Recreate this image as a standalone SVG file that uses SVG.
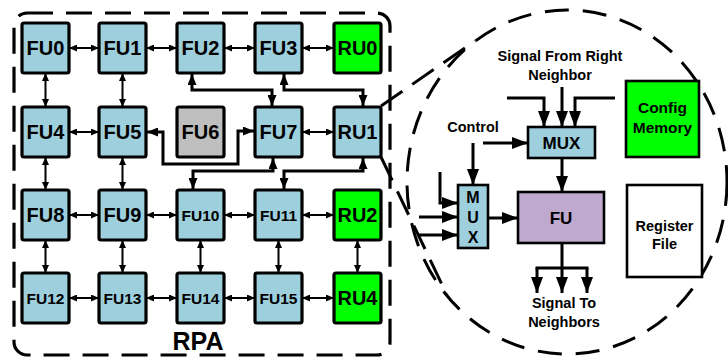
<svg xmlns="http://www.w3.org/2000/svg" width="728" height="358" viewBox="0 0 728 358">
<defs>
<style>
.n{fill:#9DCFDD;stroke:#000;stroke-width:3.2}
.g{fill:#00FF00;stroke:#000;stroke-width:3.2}
.gr{fill:#BFBFBF;stroke:#000;stroke-width:3.2}
.t{font-family:"Liberation Sans",Arial,sans-serif;font-weight:bold;text-anchor:middle;fill:#000}
.big{font-size:20px}
.sm{font-size:15.5px}
.lb{font-size:14.5px}
.da{stroke:#000;stroke-width:2;fill:none;marker-start:url(#a);marker-end:url(#a)}
.ra{stroke:#000;stroke-width:3;fill:none;marker-start:url(#r);marker-end:url(#r)}
.ia{stroke:#000;stroke-width:3;fill:none;marker-end:url(#b)}
.ln{stroke:#000;stroke-width:3;fill:none}
.dash{stroke:#000;stroke-width:3.2;fill:none;stroke-dasharray:26 13}
</style>
<marker id="a" markerUnits="userSpaceOnUse" markerWidth="8" markerHeight="7" refX="8" refY="3.5" orient="auto-start-reverse"><path d="M0,0L8,3.5L0,7z" fill="#000"/></marker>
<marker id="r" markerUnits="userSpaceOnUse" markerWidth="11" markerHeight="9" refX="11" refY="4.5" orient="auto-start-reverse"><path d="M0,0L11,4.5L0,9z" fill="#000"/></marker>
<marker id="b" markerUnits="userSpaceOnUse" markerWidth="16" markerHeight="12" refX="16" refY="6" orient="auto"><path d="M0,0L16,6L0,12z" fill="#000"/></marker>
</defs>
<rect width="728" height="358" fill="#fff"/>

<g id="rpa-border">
<rect class="dash" x="14" y="13" width="376" height="342" rx="13"/>
<text class="t" x="198" y="350" style="font-size:25px">RPA</text>
</g>

<g id="zoom-outline">
<ellipse class="dash" cx="567" cy="182" rx="160" ry="172" style="stroke-dasharray:24 14;stroke-width:3"/>
<line class="dash" x1="381" y1="106" x2="475" y2="41" style="stroke-dasharray:26 12;stroke-width:3"/>
<line class="dash" x1="381" y1="157" x2="447" y2="295" style="stroke-dasharray:26 12;stroke-width:3"/>
</g>

<g id="connectors">
<line class="da" x1="69" y1="48" x2="99" y2="48"/>
<line class="da" x1="146" y1="48" x2="177" y2="48"/>
<line class="da" x1="224" y1="48" x2="255" y2="48"/>
<line class="da" x1="302" y1="48" x2="334" y2="48"/>
<line class="da" x1="69" y1="132" x2="99" y2="132"/>
<line class="da" x1="302" y1="132" x2="334" y2="132"/>
<line class="da" x1="69" y1="215" x2="99" y2="215"/>
<line class="da" x1="146" y1="215" x2="177" y2="215"/>
<line class="da" x1="224" y1="215" x2="255" y2="215"/>
<line class="da" x1="302" y1="215" x2="334" y2="215"/>
<line class="da" x1="69" y1="298" x2="99" y2="298"/>
<line class="da" x1="146" y1="298" x2="177" y2="298"/>
<line class="da" x1="224" y1="298" x2="255" y2="298"/>
<line class="da" x1="302" y1="298" x2="334" y2="298"/>
<line class="da" x1="45.5" y1="73" x2="45.5" y2="107"/>
<line class="da" x1="122.5" y1="73" x2="122.5" y2="107"/>
<line class="da" x1="45.5" y1="157" x2="45.5" y2="190"/>
<line class="da" x1="122.5" y1="157" x2="122.5" y2="190"/>
<line class="da" x1="45.5" y1="240" x2="45.5" y2="273"/>
<line class="da" x1="122.5" y1="240" x2="122.5" y2="273"/>
<line class="da" x1="200.5" y1="240" x2="200.5" y2="273"/>
<line class="da" x1="278.5" y1="240" x2="278.5" y2="273"/>
<line class="da" x1="357.5" y1="240" x2="357.5" y2="273"/>
<path class="ra" d="M192,74V90H272V106"/>
<path class="ra" d="M284,74V90H363V106"/>
<path class="ra" d="M147,132H163V164H238V131H254"/>
<path class="ra" d="M273,158V171H193V189"/>
<path class="ra" d="M363,158V171H284V189"/>
<path class="ia" d="M562,87V127"/>
<path class="ia" d="M507,98H544V127"/>
<path class="ia" d="M615,98H575V127"/>
<path class="ia" d="M483,143H528"/>
<path class="ia" d="M473,143V185"/>
<path class="ia" d="M440,172V203H458"/>
<path class="ia" d="M419,217H458"/>
<path class="ia" d="M419,235H458"/>
<path class="ia" d="M562,158V192"/>
<path class="ia" d="M488,218H518"/>
<path class="ln" d="M562,243V268M535.5,268H588.5"/>
<path class="ia" d="M537,268V293"/>
<path class="ia" d="M562,268V293"/>
<path class="ia" d="M587,268V293"/>
</g>

<g id="FU0"><rect class="n" x="22" y="23" width="47" height="50" rx="2"/><text class="t big" x="45.5" y="55">FU0</text></g>
<g id="FU1"><rect class="n" x="99" y="23" width="47" height="50" rx="2"/><text class="t big" x="122.5" y="55">FU1</text></g>
<g id="FU2"><rect class="n" x="177" y="23" width="47" height="50" rx="2"/><text class="t big" x="200.5" y="55">FU2</text></g>
<g id="FU3"><rect class="n" x="255" y="23" width="47" height="50" rx="2"/><text class="t big" x="278.5" y="55">FU3</text></g>
<g id="RU0"><rect class="g" x="334" y="23" width="47" height="50" rx="2"/><text class="t big" x="357.5" y="55">RU0</text></g>

<g id="FU4"><rect class="n" x="22" y="107" width="47" height="50" rx="2"/><text class="t big" x="45.5" y="139">FU4</text></g>
<g id="FU5"><rect class="n" x="99" y="107" width="47" height="50" rx="2"/><text class="t big" x="122.5" y="139">FU5</text></g>
<g id="FU6"><rect class="gr" x="177" y="107" width="47" height="50" rx="2"/><text class="t big" x="200.5" y="139">FU6</text></g>
<g id="FU7"><rect class="n" x="255" y="107" width="47" height="50" rx="2"/><text class="t big" x="278.5" y="139">FU7</text></g>
<g id="RU1"><rect class="n" x="334" y="107" width="47" height="50" rx="2"/><text class="t big" x="357.5" y="139">RU1</text></g>

<g id="FU8"><rect class="n" x="22" y="190" width="47" height="50" rx="2"/><text class="t big" x="45.5" y="222">FU8</text></g>
<g id="FU9"><rect class="n" x="99" y="190" width="47" height="50" rx="2"/><text class="t big" x="122.5" y="222">FU9</text></g>
<g id="FU10"><rect class="n" x="177" y="190" width="47" height="50" rx="2"/><text class="t sm" x="200.5" y="220.5">FU10</text></g>
<g id="FU11"><rect class="n" x="255" y="190" width="47" height="50" rx="2"/><text class="t sm" x="278.5" y="220.5">FU11</text></g>
<g id="RU2"><rect class="g" x="334" y="190" width="47" height="50" rx="2"/><text class="t big" x="357.5" y="222">RU2</text></g>

<g id="FU12"><rect class="n" x="22" y="273" width="47" height="50" rx="2"/><text class="t sm" x="45.5" y="303.5">FU12</text></g>
<g id="FU13"><rect class="n" x="99" y="273" width="47" height="50" rx="2"/><text class="t sm" x="122.5" y="303.5">FU13</text></g>
<g id="FU14"><rect class="n" x="177" y="273" width="47" height="50" rx="2"/><text class="t sm" x="200.5" y="303.5">FU14</text></g>
<g id="FU15"><rect class="n" x="255" y="273" width="47" height="50" rx="2"/><text class="t sm" x="278.5" y="303.5">FU15</text></g>
<g id="RU4"><rect class="g" x="334" y="273" width="47" height="50" rx="2"/><text class="t big" x="357.5" y="305">RU4</text></g>

<g id="signal-from-right-label"><text class="t lb" x="560" y="61">Signal From Right</text><text class="t lb" x="560" y="80">Neighbor</text></g>
<g id="control-label"><text class="t lb" x="473" y="132">Control</text></g>
<g id="mux-top"><rect x="528" y="127" width="67" height="31" fill="#9DCFDD" stroke="#000" stroke-width="2.6"/><text class="t" x="561.5" y="148.5" style="font-size:17px">MUX</text></g>
<g id="config-memory"><rect x="626" y="81" width="73" height="76" fill="#00FF00" stroke="#000" stroke-width="2.6"/><text class="t" x="662.5" y="113" style="font-size:15.5px">Config</text><text class="t" x="662.5" y="133" style="font-size:15.5px">Memory</text></g>
<g id="mux-left"><rect x="458" y="185" width="30" height="63" fill="#9DCFDD" stroke="#000" stroke-width="2.6"/><text class="t" x="473" y="203" style="font-size:16px">M</text><text class="t" x="473" y="223" style="font-size:16px">U</text><text class="t" x="473" y="243" style="font-size:16px">X</text></g>
<g id="fu-inner"><rect x="518" y="192" width="86" height="51" fill="#C0A9CE" stroke="#000" stroke-width="2.6"/><text class="t" x="561" y="224" style="font-size:17px">FU</text></g>
<g id="register-file"><rect x="627" y="185" width="75" height="92" fill="#fff" stroke="#000" stroke-width="2.6"/><text class="t lb" x="664.5" y="231">Register</text><text class="t lb" x="664.5" y="249">File</text></g>
<g id="signal-to-label"><text class="t lb" x="564" y="308">Signal To</text><text class="t lb" x="564" y="327">Neighbors</text></g>
</svg>
